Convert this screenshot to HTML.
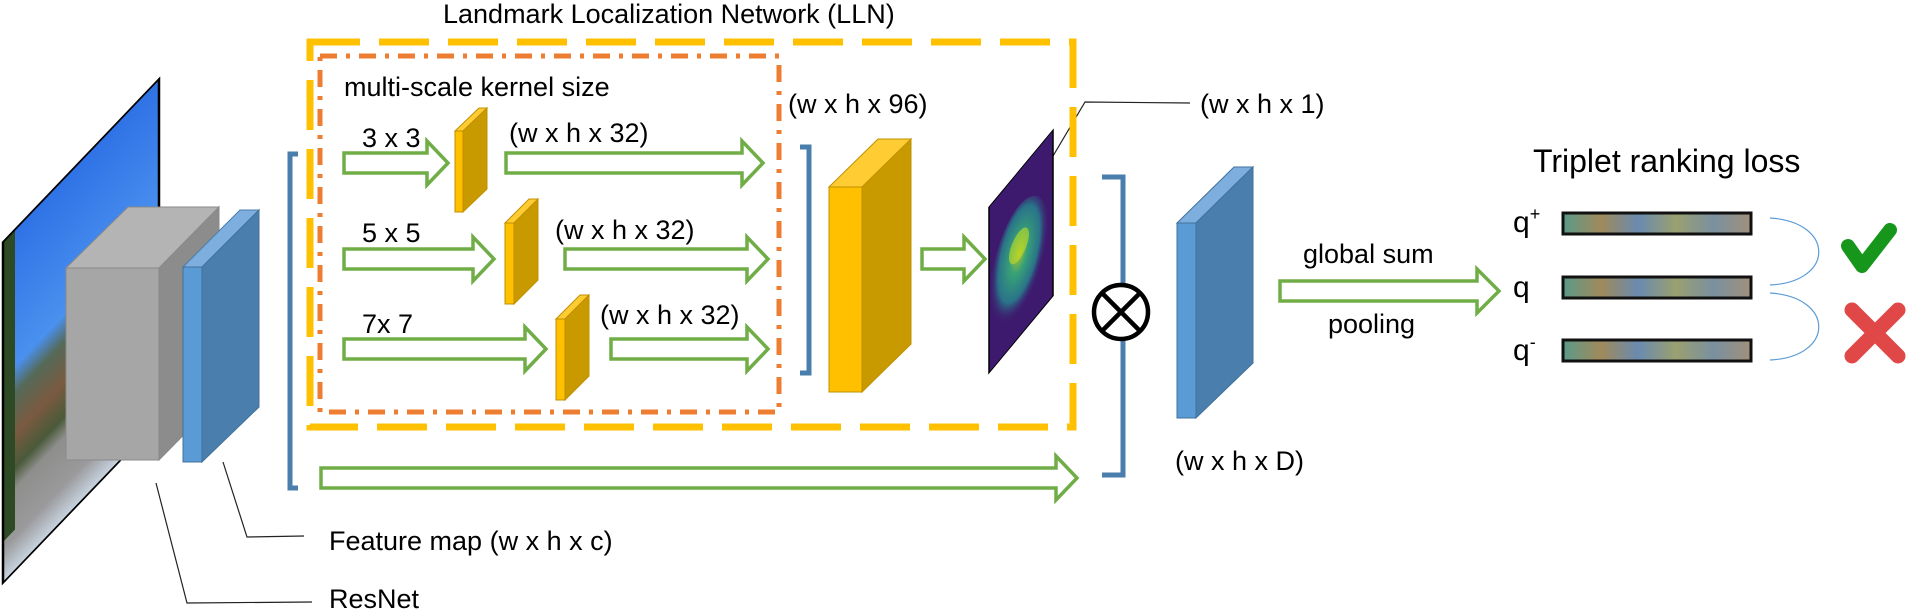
<!DOCTYPE html>
<html><head><meta charset="utf-8"><style>
html,body{margin:0;padding:0;background:#fff}
svg{display:block}
text{font-family:"Liberation Sans",Arial,sans-serif;fill:#000}
</style></head><body>
<svg width="1908" height="612" viewBox="0 0 1908 612" xmlns="http://www.w3.org/2000/svg">
<defs>
<linearGradient id="sky" x1="0" y1="0" x2="0" y2="1">
<stop offset="0" stop-color="#2f72e6"/><stop offset="0.4" stop-color="#4a90ee"/>
<stop offset="0.48" stop-color="#556a58"/><stop offset="0.6" stop-color="#7a5a40"/>
<stop offset="0.7" stop-color="#4a5a3a"/><stop offset="0.76" stop-color="#8e8e8c"/>
<stop offset="0.9" stop-color="#9a9a9c"/><stop offset="1" stop-color="#c8d4e0"/></linearGradient>
<radialGradient id="hm1" cx="0.5" cy="0.4" r="0.5"><stop offset="0" stop-color="#b5de2b"/><stop offset="0.3" stop-color="#35b779"/><stop offset="0.7" stop-color="#26828e"/><stop offset="1" stop-color="#3e1a6e" stop-opacity="0"/></radialGradient>
<linearGradient id="bar" x1="0" y1="0" x2="1" y2="0">
<stop offset="0" stop-color="#5a9a8a"/><stop offset="0.2" stop-color="#a08a5a"/><stop offset="0.4" stop-color="#6a8ab0"/><stop offset="0.6" stop-color="#9aa070"/><stop offset="0.8" stop-color="#7a90a0"/><stop offset="1" stop-color="#a0907a"/></linearGradient>
</defs>

<!-- street image -->
<g transform="matrix(1,-1.045,0,1,3,242)">
<rect x="0" y="0" width="156" height="341" fill="url(#sky)"/>
<rect x="0" y="0" width="12" height="300" fill="#2e4a24"/>
<rect x="0" y="0" width="156" height="341" fill="none" stroke="#000" stroke-width="2.5"/>
</g>

<!-- gray box -->
<polygon points="66,268 128,207 219,207 159,268" fill="#b4b4b4" stroke="#8a8a8a"/>
<polygon points="159,268 219,207 219,399 159,460" fill="#8c8c8c" stroke="#8a8a8a"/>
<rect x="66" y="268" width="93" height="192" fill="#a6a6a6" stroke="#8a8a8a"/>
<!-- blue slab 1 -->
<polygon points="183,267 240,210 259,210 202,267" fill="#7eaede" stroke="#4a7eac"/>
<polygon points="202,267 259,210 259,407 202,462" fill="#4a7eac" stroke="#41719c"/>
<rect x="183" y="267" width="19" height="195" fill="#5b9bd5" stroke="#41719c"/>

<!-- leader lines -->
<g stroke="#222" stroke-width="1.2" fill="none">
<polyline points="156,483 187,603 312,602"/>
<polyline points="223,462 247,537 304,536"/>
<polyline points="1040,178 1085,102 1190,103"/>
</g>
<text x="329" y="608" font-size="27">ResNet</text>
<text x="329" y="550" font-size="27">Feature map (w x h x c)</text>

<!-- LLN boxes -->
<rect x="310" y="42" width="763" height="385" fill="none" stroke="#ffc000" stroke-width="7" stroke-dasharray="50 19"/>
<rect x="320" y="56" width="459" height="356" fill="none" stroke="#ed7d31" stroke-width="5" stroke-dasharray="17 9 4 9"/>
<text x="443" y="23" font-size="27">Landmark Localization Network (LLN)</text>
<text x="344" y="96" font-size="27">multi-scale kernel size</text>

<!-- brackets -->
<g stroke="#4a7eac" stroke-width="5" fill="none">
<polyline points="298,154 290,154 290,488 298,488"/>
<polyline points="800,147 809,147 809,373 800,373"/>
<polyline points="1102,177 1123,177 1123,475 1102,475"/>
</g>

<!-- arrows -->
<g fill="#fff" stroke="#70ad47" stroke-width="3.5" stroke-linejoin="miter">
<polygon points="344,153 427,153 427,141 448,163 427,185 427,173 344,173"/>
<polygon points="506,153 742,153 742,141 763,163 742,185 742,173 506,173"/>
<polygon points="344,249 473,249 473,237 494,259 473,281 473,269 344,269"/>
<polygon points="565,249 747,249 747,237 768,259 747,281 747,269 565,269"/>
<polygon points="344,339 525,339 525,327 546,349 525,371 525,359 344,359"/>
<polygon points="611,339 747,339 747,327 768,349 747,371 747,359 611,359"/>
<polygon points="922,249 964,249 964,237 985,259 964,281 964,269 922,269"/>
<polygon points="321,468 1056,468 1056,456 1077,478 1056,500 1056,488 321,488"/>
<polygon points="1280,281 1477,281 1477,269 1499,291 1477,313 1477,301 1280,301"/>
</g>

<text x="362" y="147" font-size="27">3 x 3</text>
<text x="362" y="242" font-size="27">5 x 5</text>
<text x="362" y="333" font-size="27">7x 7</text>
<text x="509" y="142" font-size="27">(w x h x 32)</text>
<text x="555" y="239" font-size="27">(w x h x 32)</text>
<text x="600" y="324" font-size="27">(w x h x 32)</text>
<text x="788" y="113" font-size="27">(w x h x 96)</text>
<text x="1200" y="113" font-size="27">(w x h x 1)</text>
<text x="1175" y="470" font-size="27">(w x h x D)</text>
<text x="1303" y="263" font-size="27">global sum</text>
<text x="1328" y="333" font-size="27">pooling</text>

<!-- small yellow slabs -->
<g stroke="#bf9000" stroke-width="1">
<polygon points="455,131 479,108 487,108 463,131" fill="#ffcd33"/>
<polygon points="463,131 487,108 487,189 463,212" fill="#c99a00"/>
<rect x="455" y="131" width="8" height="81" fill="#ffc000"/>
<polygon points="505,223 529,199 538,199 514,223" fill="#ffcd33"/>
<polygon points="514,223 538,199 538,280 514,304" fill="#c99a00"/>
<rect x="505" y="223" width="9" height="81" fill="#ffc000"/>
<polygon points="556,319 580,295 589,295 565,319" fill="#ffcd33"/>
<polygon points="565,319 589,295 589,376 565,400" fill="#c99a00"/>
<rect x="556" y="319" width="9" height="81" fill="#ffc000"/>
<polygon points="829,187 878,139 911,139 862,187" fill="#ffcd33"/>
<polygon points="862,187 911,139 911,344 862,392" fill="#c99a00"/>
<rect x="829" y="187" width="33" height="205" fill="#ffc000"/>
</g>

<!-- heatmap -->
<g transform="matrix(1,-1.203,0,1,989,207)">
<rect x="0" y="0" width="64" height="166" fill="#3e1a6e" stroke="#000" stroke-width="1.5"/>
<ellipse cx="30" cy="95" rx="30" ry="60" fill="url(#hm1)" opacity="0.85"/>
<ellipse cx="30" cy="75" rx="10" ry="14" fill="#c8e020" opacity="0.6"/>
</g>

<!-- circle otimes -->
<circle cx="1121" cy="312" r="27" fill="#fff" stroke="#000" stroke-width="4.5"/>
<line x1="1102" y1="293" x2="1140" y2="331" stroke="#000" stroke-width="4.5"/>
<line x1="1140" y1="293" x2="1102" y2="331" stroke="#000" stroke-width="4.5"/>

<!-- blue slab 2 -->
<polygon points="1177,223 1234,167 1253,167 1196,223" fill="#7eaede" stroke="#41719c"/>
<polygon points="1196,223 1253,167 1253,363 1196,418" fill="#4a7eac" stroke="#41719c"/>
<rect x="1177" y="223" width="19" height="195" fill="#5b9bd5" stroke="#41719c"/>

<!-- triplet -->
<text x="1533" y="172" font-size="32">Triplet ranking loss</text>
<text x="1513" y="232" font-size="30">q<tspan dy="-12" font-size="18">+</tspan></text>
<text x="1513" y="297" font-size="30">q</text>
<text x="1513" y="360" font-size="30">q<tspan dy="-12" font-size="18">-</tspan></text>
<g stroke="#111" stroke-width="3">
<rect x="1563" y="213" width="188" height="21" fill="url(#bar)"/>
<rect x="1563" y="277" width="188" height="21" fill="url(#bar)"/>
<rect x="1563" y="340" width="188" height="21" fill="url(#bar)"/>
</g>
<g fill="none" stroke="#5b9bd5" stroke-width="1.2">
<path d="M1770,218 C1835,222 1835,282 1770,285"/>
<path d="M1770,293 C1835,297 1835,357 1770,360"/>
</g>
<polyline points="1848,246 1862,266 1890,230" fill="none" stroke="#16961a" stroke-width="14" stroke-linecap="round" stroke-linejoin="round"/>
<g stroke="#e04848" stroke-width="15" stroke-linecap="round">
<line x1="1852" y1="310" x2="1898" y2="356"/>
<line x1="1898" y1="310" x2="1852" y2="356"/>
</g>
</svg>
</body></html>
